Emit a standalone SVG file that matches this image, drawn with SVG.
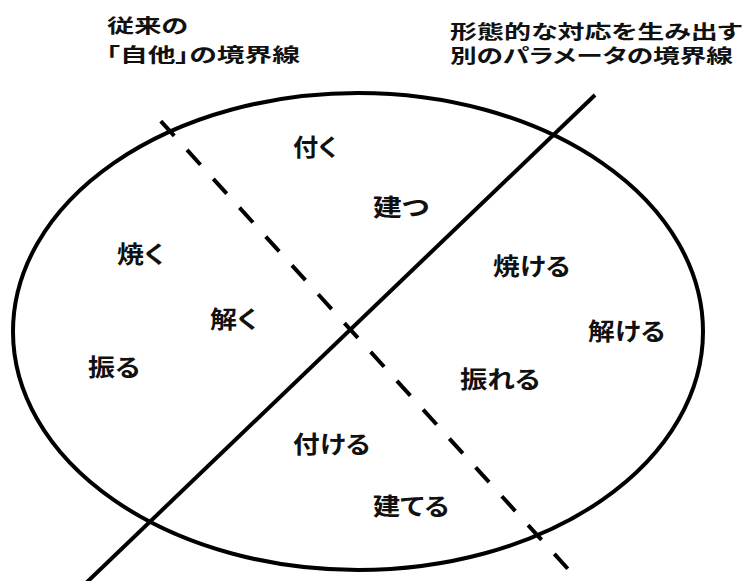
<svg xmlns="http://www.w3.org/2000/svg" width="751" height="581" viewBox="0 0 751 581">
<style>
.t{font-family:"Noto Sans CJK JP","Noto Sans CJK SC",sans-serif;font-weight:bold;fill:#111;font-feature-settings:"palt";}
.title{font-size:19px;}
.lbl{font-size:24px;}
.ln{fill:none;stroke:#000;stroke-width:4;}
</style>
<rect width="751" height="581" fill="#fff"/>
<g id="titles">
<text class="t title" x="107" y="33" textLength="81" lengthAdjust="spacingAndGlyphs">従来の</text>
<text class="t title" x="106" y="62" textLength="194" lengthAdjust="spacingAndGlyphs">「自他」の境界線</text>
<text class="t title" x="450" y="39" textLength="292" lengthAdjust="spacingAndGlyphs">形態的な対応を生み出す</text>
<text class="t title" x="450" y="63" textLength="283" lengthAdjust="spacingAndGlyphs">別のパラメータの境界線</text>
</g>
<g id="region">
<ellipse class="ln" cx="358" cy="331.5" rx="345" ry="238.5"/>
</g>
<g id="connectors">
<line class="ln" x1="595" y1="95" x2="85" y2="584"/>
<line class="ln" x1="160.8" y1="121.1" x2="567.8" y2="568.8" stroke-dasharray="20 19"/>
</g>
<g id="labels">
<text class="t lbl" x="293" y="156" textLength="44" lengthAdjust="spacingAndGlyphs">付く</text>
<text class="t lbl" x="373" y="216" textLength="56" lengthAdjust="spacingAndGlyphs">建つ</text>
<text class="t lbl" x="117" y="263" textLength="47" lengthAdjust="spacingAndGlyphs">焼く</text>
<text class="t lbl" x="210" y="328" textLength="47" lengthAdjust="spacingAndGlyphs">解く</text>
<text class="t lbl" x="88" y="376" textLength="52" lengthAdjust="spacingAndGlyphs">振る</text>
<text class="t lbl" x="493" y="275" textLength="77" lengthAdjust="spacingAndGlyphs">焼ける</text>
<text class="t lbl" x="588" y="340" textLength="77" lengthAdjust="spacingAndGlyphs">解ける</text>
<text class="t lbl" x="460" y="388" textLength="80" lengthAdjust="spacingAndGlyphs">振れる</text>
<text class="t lbl" x="293" y="453" textLength="77" lengthAdjust="spacingAndGlyphs">付ける</text>
<text class="t lbl" x="373" y="515" textLength="76" lengthAdjust="spacingAndGlyphs">建てる</text>
</g>
</svg>
